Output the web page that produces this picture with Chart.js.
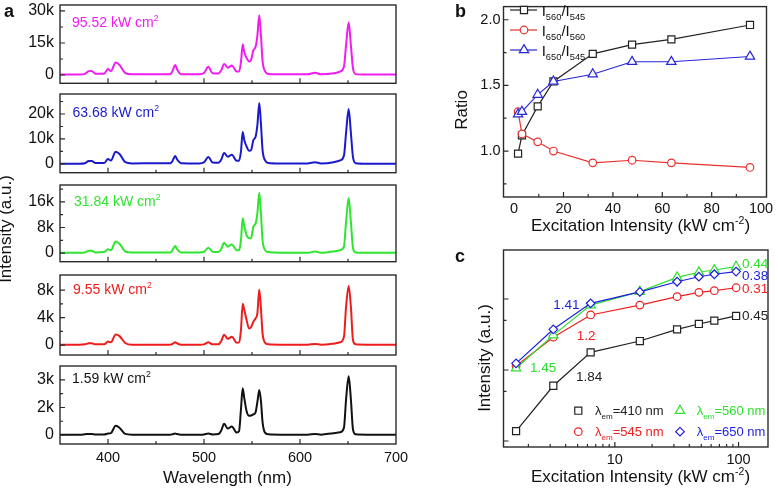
<!DOCTYPE html>
<html>
<head>
<meta charset="utf-8">
<script src="https://cdn.jsdelivr.net/npm/chart.js@4.4.1/dist/chart.umd.min.js"></script>
<style>
  body { margin: 0; background: #fff; }
  #wrap { position: relative; width: 778px; height: 491px; overflow: hidden; }
  #wrap canvas { position: absolute; left: 0; top: 0; }
</style>
</head>
<body>
<div id="wrap"></div>
<script>
// ---- data (a): emission spectra, intensity in thousands of counts ----
const wavelength = [350, 370, 376, 380, 383, 387, 396, 400, 403, 408, 412, 418, 425, 450, 465, 467, 470, 472, 476, 495,
  500, 504.5, 509, 515, 518, 521, 524.7, 529, 534, 536.5, 538.5, 540.3, 542, 544.4, 547, 549, 551.4, 553.8, 555.6, 557.6,
  559.4, 561, 563.5, 567, 580, 608, 615.6, 622, 635, 641.7, 645.8, 648, 650.7, 653, 655.2, 658, 670, 700];

const spec9552 = [0.2, 0.2, 0.5, 1.8, 1.9, 0.6, 0.6, 2.8, 1.8, 5.8, 4.7, 0.9, 0.3, 0.4, 0.4, 1.6, 4.7, 2.6, 0.4, 0.3,
  0.9, 3.8, 0.8, 0.7, 2.2, 5.2, 3.4, 4.4, 1.6, 1.6, 6, 14.4, 10.5, 8, 6.3, 7, 11.5, 13.3, 18.5, 28,
  18, 6.5, 1.8, 0.5, 0.3, 0.3, 1.1, 0.3, 0.8, 1.6, 3.9, 14, 24.7, 14, 3.1, 0.4, 0.2, 0.2];
const spec6368 = [0.1, 0.1, 0.3, 1.2, 1.2, 0.4, 0.4, 2.0, 1.4, 4.9, 4.0, 0.7, 0.2, 0.3, 0.3, 1.1, 3.2, 1.8, 0.3, 0.2,
  0.6, 2.8, 0.6, 0.5, 1.8, 4.4, 2.9, 3.7, 1.3, 1.3, 5, 12.8, 9.5, 7, 5.3, 5.5, 9.5, 11, 15.5, 24.4,
  15.5, 5.5, 1.5, 0.4, 0.2, 0.2, 0.7, 0.2, 0.7, 1.4, 3.4, 12.5, 22, 12.5, 2.7, 0.3, 0.1, 0.1];
const spec3184 = [0.1, 0.1, 0.2, 0.7, 0.7, 0.2, 0.3, 1.2, 0.9, 3.6, 2.9, 0.5, 0.2, 0.2, 0.2, 0.8, 2.2, 1.2, 0.2, 0.2,
  0.4, 1.7, 0.4, 0.3, 1.3, 3.2, 2.0, 2.7, 0.9, 0.9, 4, 10.9, 8.3, 5.6, 4.6, 4.6, 8.3, 9.3, 12.4, 18.9,
  11.9, 4.0, 1.0, 0.3, 0.1, 0.1, 0.5, 0.1, 0.5, 0.9, 2.0, 9.8, 17.2, 9.8, 1.5, 0.2, 0.1, 0.1];
const spec955 = [0.05, 0.05, 0.1, 0.25, 0.25, 0.1, 0.1, 0.5, 0.4, 1.55, 1.3, 0.3, 0.05, 0.05, 0.05, 0.15, 0.4, 0.25, 0.05, 0.05,
  0.1, 0.4, 0.1, 0.1, 0.6, 1.5, 0.9, 1.2, 0.35, 0.4, 2.2, 6.0, 5.1, 3.6, 2.4, 2.6, 3.4, 3.9, 4.6, 8.1,
  5.1, 1.7, 0.35, 0.1, 0.05, 0.05, 0.15, 0.05, 0.2, 0.4, 1.2, 5.6, 8.6, 5.6, 0.7, 0.1, 0.05, 0.05];
const spec159 = [0.02, 0.02, 0.04, 0.06, 0.06, 0.03, 0.03, 0.08, 0.1, 0.5, 0.4, 0.06, 0.02, 0.02, 0.02, 0.04, 0.08, 0.05, 0.02, 0.02,
  0.03, 0.08, 0.03, 0.05, 0.25, 0.62, 0.35, 0.47, 0.13, 0.2, 1.4, 2.55, 2.0, 1.3, 1.05, 1.06, 1.12, 1.25, 1.8, 2.45,
  1.8, 0.7, 0.13, 0.04, 0.02, 0.02, 0.05, 0.02, 0.1, 0.15, 0.4, 1.95, 3.2, 1.95, 0.3, 0.04, 0.02, 0.02];

const waveTicks = [400, 500, 600, 700];

// ---- data (b): intensity ratios ----
const ratioPower = [1.59, 3.18, 9.55, 15.92, 31.84, 47.76, 63.68, 95.52];
const r560to545 = [0.98, 1.12, 1.34, 1.53, 1.74, 1.81, 1.85, 1.96];
const r650to560 = [1.30, 1.13, 1.07, 1.00, 0.91, 0.93, 0.91, 0.875];
const r650to545 = [1.28, 1.30, 1.43, 1.53, 1.585, 1.68, 1.68, 1.72];
const ratioTicksX = [0, 20, 40, 60, 80, 100];
const ratioTicksY = [1.0, 1.5, 2.0];

// ---- data (c): power dependence (log-log) ----
const powerX = [1.59, 3.18, 6.37, 15.92, 31.84, 47.76, 63.68, 95.52];
const em410 = [1380, 6000, 17700, 25600, 37400, 44500, 49500, 57700];
const em545 = [11400, 29000, 59600, 82000, 108000, 124000, 131000, 144000];
const em560 = [10600, 31000, 82000, 127000, 202000, 238000, 256000, 285000];
const em650 = [12400, 37400, 87000, 126000, 175000, 206000, 223000, 243000];
const powerTicksX = [10, 100];

// ---- drawing helpers ----
const FONT = "'Liberation Sans', Arial, Helvetica, sans-serif";
Chart.defaults.font.family = FONT;
Chart.defaults.color = '#111';

const MAG = '#f01cf0', BLU = '#1a1acc', GRN = '#2ee62e', RED = '#ee1c1c', BLK = '#111111';

function rich(ctx, x, y, parts, size, color, align, rot, weight) {
  ctx.save();
  ctx.translate(x, y);
  if (rot) ctx.rotate(rot);
  ctx.fillStyle = color || '#111';
  ctx.textBaseline = 'alphabetic';
  const list = parts.map(p => typeof p === 'string' ? { t: p } : p);
  const fontOf = p => (weight || 'normal') + ' ' + (p.sub || p.sup ? size * 0.62 : size) + 'px ' + FONT;
  let w = 0;
  list.forEach(p => { ctx.font = fontOf(p); w += ctx.measureText(p.t).width; });
  let cx = align === 'center' ? -w / 2 : align === 'right' ? -w : 0;
  const base = size * 0.35;
  list.forEach(p => {
    ctx.font = fontOf(p);
    const dy = p.sub ? size * 0.25 : p.sup ? -size * 0.42 : 0;
    ctx.fillText(p.t, cx, base + dy);
    cx += ctx.measureText(p.t).width;
  });
  ctx.restore();
}

function marker(ctx, style, x, y, r, color) {
  ctx.save();
  ctx.strokeStyle = color;
  ctx.fillStyle = '#fff';
  ctx.lineWidth = 1.2;
  ctx.beginPath();
  if (style === 'rect') {
    const s = r * Math.SQRT1_2;
    ctx.rect(x - s, y - s, 2 * s, 2 * s);
  } else if (style === 'circle') {
    ctx.arc(x, y, r, 0, Math.PI * 2);
  } else if (style === 'triangle') {
    ctx.moveTo(x, y - r);
    ctx.lineTo(x + r * 0.866, y + r * 0.5);
    ctx.lineTo(x - r * 0.866, y + r * 0.5);
    ctx.closePath();
  } else {
    ctx.moveTo(x, y - r); ctx.lineTo(x + r, y); ctx.lineTo(x, y + r); ctx.lineTo(x - r, y);
    ctx.closePath();
  }
  ctx.fill();
  ctx.stroke();
  ctx.restore();
}

// box + inward ticks + annotations
const framePlugin = {
  id: 'frame',
  afterDraw(chart, args, o) {
    const { ctx, chartArea: a } = chart;
    const x = chart.scales.x, y = chart.scales.y;
    ctx.save();
    ctx.strokeStyle = '#2b2b2b';
    ctx.lineWidth = 1.4;
    ctx.strokeRect(a.left, a.top, a.right - a.left, a.bottom - a.top);
    ctx.lineWidth = 1.2;
    ctx.beginPath();
    const tx = (vals, len) => (vals || []).forEach(v => {
      const p = x.getPixelForValue(v); ctx.moveTo(p, a.bottom); ctx.lineTo(p, a.bottom - len);
    });
    const ty = (vals, len) => (vals || []).forEach(v => {
      const p = y.getPixelForValue(v); ctx.moveTo(a.left, p); ctx.lineTo(a.left + len, p);
    });
    tx(o.xMajor, 5); tx(o.xMinor, 3); ty(o.yMajor, 5); ty(o.yMinor, 3);
    ctx.stroke();
    (o.keys || []).forEach(k => {
      if (k.x1 !== undefined) {
        ctx.strokeStyle = k.color; ctx.lineWidth = 1.2;
        ctx.beginPath(); ctx.moveTo(k.x1, k.y); ctx.lineTo(k.x2, k.y); ctx.stroke();
      }
      marker(ctx, k.style, k.mx, k.y, k.r, k.color);
    });
    (o.texts || []).forEach(t => rich(ctx, t.x, t.y, t.parts, t.size, t.color, t.align, t.rot, t.weight));
    ctx.restore();
  }
};

function axis(type, min, max, ticks, fmt, size, pad, show) {
  return {
    type, min, max, clip: false,
    grid: { display: false, drawTicks: false },
    border: { display: false },
    afterBuildTicks: s => { s.ticks = ticks.map(v => ({ value: v })); },
    ticks: { display: show, padding: pad, font: { size }, color: '#111', callback: fmt, autoSkip: false, maxRotation: 0 }
  };
}

const wrap = document.getElementById('wrap');

function makeChart(box, yW, xH, xAxis, yAxis, datasets, frame) {
  const cv = document.createElement('canvas');
  cv.width = 778; cv.height = 491;
  wrap.appendChild(cv);
  xAxis.afterFit = s => { s.height = xH; s.paddingLeft = 0; s.paddingRight = 0; };
  yAxis.afterFit = s => { s.width = yW; s.paddingTop = 0; s.paddingBottom = 0; };
  return new Chart(cv, {
    type: 'line',
    data: { datasets },
    options: {
      responsive: false,
      animation: false,
      events: [],
      devicePixelRatio: 1,
      layout: { padding: { left: box[0] - yW, top: box[1], right: 778 - box[0] - box[2], bottom: 491 - box[1] - box[3] - xH } },
      plugins: { legend: { display: false }, tooltip: { enabled: false }, frame },
      scales: { x: xAxis, y: yAxis }
    },
    plugins: [framePlugin]
  });
}

const pts = (xs, ys) => xs.map((v, i) => ({ x: v, y: ys[i] }));
const kfmt = v => v === 0 ? '0' : Math.round(v) + 'k';

// ---- panel a ----
const aPanels = [
  { box: [60, 5, 336, 78.3], data: spec9552, color: MAG, min: -3.9, max: 32.8, major: [0, 15, 30], minor: [7.5, 22.5], note: '95.52', nx: 72, ny: 22 },
  { box: [60, 94, 336, 78.7], data: spec6368, color: BLU, min: -3.5, max: 28, major: [0, 10, 20], minor: [5, 15, 25], note: '63.68', nx: 72.5, ny: 112 },
  { box: [60, 185, 336, 76.7], data: spec3184, color: GRN, min: -2.7, max: 21.3, major: [0, 8, 16], minor: [4, 12, 20], note: '31.84', nx: 74, ny: 201 },
  { box: [60, 275, 336, 80], data: spec955, color: RED, min: -1.45, max: 10.2, major: [0, 4, 8], minor: [2, 6], note: '9.55', nx: 73, ny: 289 },
  { box: [60, 366, 336, 78], data: spec159, color: BLK, min: -0.49, max: 3.76, major: [0, 1.5, 3], minor: [0.75, 2.25], note: '1.59', nx: 72, ny: 378 }
];

aPanels.forEach((p, i) => {
  const last = i === aPanels.length - 1;
  const texts = [{ x: p.nx, y: p.ny, parts: [p.note + ' kW cm', { t: '2', sup: true }], size: 14, color: p.color }];
  if (last) {
    texts.push({ x: 227.5, y: 477, parts: ['Wavelength (nm)'], size: 17, align: 'center' });
    texts.push({ x: 5.5, y: 229, parts: ['Intensity (a.u.)'], size: 17, align: 'center', rot: -Math.PI / 2 });
    texts.push({ x: 4, y: 11, parts: ['a'], size: 18, weight: 'bold' });
  }
  makeChart(p.box, 55, 30,
    axis('linear', 350, 700, waveTicks, v => v, 14.5, 5, last),
    axis('linear', p.min, p.max, p.major, kfmt, 16, 6, true),
    [{
      data: pts(wavelength, p.data), borderColor: p.color, borderWidth: 2, pointRadius: 0,
      cubicInterpolationMode: 'monotone', fill: false
    }],
    { xMajor: [400, 500, 600], xMinor: [450, 550, 650], yMajor: p.major, yMinor: p.minor, texts });
});

// ---- panel b ----
const bBlack = '#222222', bRed = '#e8302c', bBlue = '#2626d6';
const sub = t => ({ t, sub: true });
makeChart([503.5, 2.5, 263, 194.5], 40, 22,
  axis('linear', -4.3, 102.2, ratioTicksX, v => v, 14.5, 3, true),
  axis('linear', 0.65, 2.1, ratioTicksY, v => v.toFixed(1), 14.5, 3, true),
  [
    { data: pts(ratioPower, r560to545), borderColor: bBlack, borderWidth: 1.2, pointStyle: 'rect', pointRadius: 5, pointBorderWidth: 1.2, pointBackgroundColor: '#fff', order: 3 },
    { data: pts(ratioPower, r650to560), borderColor: bRed, borderWidth: 1.2, pointStyle: 'circle', pointRadius: 3.8, pointBorderWidth: 1.2, pointBackgroundColor: '#fff', order: 2 },
    { data: pts(ratioPower, r650to545), borderColor: bBlue, borderWidth: 1.2, pointStyle: 'triangle', pointRadius: 5.4, pointBorderWidth: 1.2, pointBackgroundColor: '#fff', order: 1 }
  ],
  {
    xMajor: [20, 40, 60, 80], xMinor: [10, 30, 50, 70, 90], yMajor: ratioTicksY, yMinor: [0.75, 1.25, 1.75],
    keys: [
      { x1: 510, x2: 537, mx: 524, y: 10, style: 'rect', r: 5, color: bBlack },
      { x1: 510, x2: 537, mx: 524, y: 30, style: 'circle', r: 3.8, color: bRed },
      { x1: 510, x2: 537, mx: 524, y: 50, style: 'triangle', r: 5.4, color: bBlue }
    ],
    texts: [
      { x: 541.7, y: 10.5, parts: ['I', sub('560'), '/I', sub('545')], size: 15 },
      { x: 541.7, y: 30.5, parts: ['I', sub('650'), '/I', sub('560')], size: 15 },
      { x: 541.7, y: 50.5, parts: ['I', sub('650'), '/I', sub('545')], size: 15 },
      { x: 461, y: 110, parts: ['Ratio'], size: 17, align: 'center', rot: -Math.PI / 2 },
      { x: 640.5, y: 224.7, parts: ['Excitation Intensity (kW cm', { t: '-2', sup: true }, ')'], size: 17, align: 'center' },
      { x: 455, y: 10.4, parts: ['b'], size: 18, weight: 'bold' }
    ]
  });

// ---- panel c ----
const cBlack = '#222222', cRed = '#f02020', cGreen = '#2fe02f', cBlue = '#1e1ee0';
makeChart([503.5, 250, 264.5, 197], 20, 22,
  axis('logarithmic', 1.258, 173, powerTicksX, v => v, 14.5, 4, true),
  axis('logarithmic', 823, 490000, [1e3, 1e4, 1e5], v => '', 14, 3, false),
  [
    { data: pts(powerX, em410), borderColor: cBlack, borderWidth: 1.2, pointStyle: 'rect', pointRadius: 5, pointBorderWidth: 1.2, pointBackgroundColor: '#fff', order: 4 },
    { data: pts(powerX, em545), borderColor: cRed, borderWidth: 1.2, pointStyle: 'circle', pointRadius: 3.8, pointBorderWidth: 1.2, pointBackgroundColor: '#fff', order: 3 },
    { data: pts(powerX, em560), borderColor: cGreen, borderWidth: 1.2, pointStyle: 'triangle', pointRadius: 5.4, pointBorderWidth: 1.2, pointBackgroundColor: '#fff', order: 2 },
    { data: pts(powerX, em650), borderColor: cBlue, borderWidth: 1.2, pointStyle: 'rectRot', pointRadius: 4.3, pointBorderWidth: 1.2, pointBackgroundColor: '#fff', order: 1 }
  ],
  {
    xMajor: [10, 100], xMinor: [2, 3, 4, 5, 6, 7, 8, 9, 20, 30, 40, 50, 60, 70, 80, 90],
    yMajor: [1e3, 1e4, 1e5], yMinor: [5e3, 5e4],
    keys: [
      { mx: 578.3, y: 410.7, style: 'rect', r: 5, color: cBlack },
      { mx: 578.3, y: 431.7, style: 'circle', r: 3.8, color: cRed },
      { mx: 680, y: 410.7, style: 'triangle', r: 5.4, color: cGreen },
      { mx: 680, y: 431.7, style: 'rectRot', r: 4.3, color: cBlue }
    ],
    texts: [
      { x: 595, y: 410.7, parts: ['\u03bb', sub('em'), '=410 nm'], size: 13, color: cBlack },
      { x: 595, y: 431.7, parts: ['\u03bb', sub('em'), '=545 nm'], size: 13, color: cRed },
      { x: 696.7, y: 410.7, parts: ['\u03bb', sub('em'), '=560 nm'], size: 13, color: cGreen },
      { x: 696.7, y: 431.7, parts: ['\u03bb', sub('em'), '=650 nm'], size: 13, color: cBlue },
      { x: 742, y: 263, parts: ['0.44'], size: 13.5, color: cGreen },
      { x: 742, y: 275, parts: ['0.38'], size: 13.5, color: cBlue },
      { x: 742, y: 288.5, parts: ['0.31'], size: 13.5, color: cRed },
      { x: 742, y: 315.5, parts: ['0.45'], size: 13.5, color: cBlack },
      { x: 553.3, y: 304, parts: ['1.41'], size: 13.5, color: cBlue },
      { x: 576.7, y: 335.5, parts: ['1.2'], size: 13.5, color: cRed },
      { x: 530, y: 367, parts: ['1.45'], size: 13.5, color: cGreen },
      { x: 576, y: 376, parts: ['1.84'], size: 13.5, color: cBlack },
      { x: 483.6, y: 358, parts: ['Intensity (a.u.)'], size: 17, align: 'center', rot: -Math.PI / 2 },
      { x: 640.5, y: 476.4, parts: ['Excitation Intensity (kW cm', { t: '-2', sup: true }, ')'], size: 17, align: 'center' },
      { x: 455, y: 255.4, parts: ['c'], size: 18, weight: 'bold' }
    ]
  });
</script>
</body>
</html>
